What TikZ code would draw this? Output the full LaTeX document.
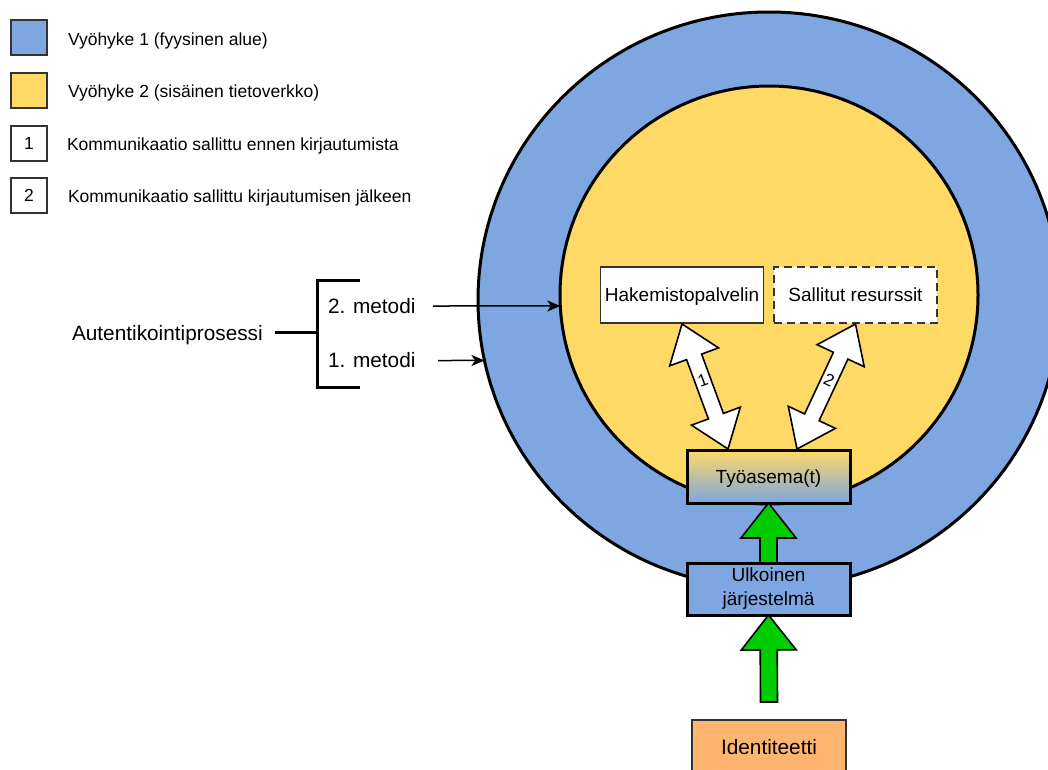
\documentclass[tikz,border=0pt]{standalone}
\usepackage{fontspec}
\setmainfont{Liberation Sans}
\usetikzlibrary{calc,shapes.geometric,arrows.meta}

\definecolor{zoneblue}{HTML}{7EA6E0}
\definecolor{zoneyellow}{HTML}{FFD966}
\definecolor{idorange}{HTML}{FFB570}
\definecolor{passgreen}{HTML}{00CC00}
\definecolor{edgegray}{HTML}{333333}

% head length, head half width, shaft half width of the white two-way arrows
\newcommand{\ahl}{35pt}
\newcommand{\ahw}{26pt}
\newcommand{\asw}{8pt}
% same for the green one-way arrows
\newcommand{\bhl}{35pt}
\newcommand{\bhw}{27.5pt}
\newcommand{\bsw}{8.5pt}

% two-way block arrow between two named points
\newcommand{\twowayarrow}[2]{%
  \draw[flowarrow] (#1)
    -- ($($(#1)!\ahl!(#2)$)!\ahw!90:(#2)$)
    -- ($($(#1)!\ahl!(#2)$)!\asw!90:(#2)$)
    -- ($($(#2)!\ahl!(#1)$)!\asw!-90:(#1)$)
    -- ($($(#2)!\ahl!(#1)$)!\ahw!-90:(#1)$)
    -- (#2)
    -- ($($(#2)!\ahl!(#1)$)!\ahw!90:(#1)$)
    -- ($($(#2)!\ahl!(#1)$)!\asw!90:(#1)$)
    -- ($($(#1)!\ahl!(#2)$)!\asw!-90:(#2)$)
    -- ($($(#1)!\ahl!(#2)$)!\ahw!-90:(#2)$)
    -- cycle;}

% one-way block arrow from tail #1 to tip #2
\newcommand{\onewayarrow}[2]{%
  \draw[passarrow] ($(#1)!\bsw!90:(#2)$)
    -- ($($(#2)!\bhl!(#1)$)!\bsw!-90:(#1)$)
    -- ($($(#2)!\bhl!(#1)$)!\bhw!-90:(#1)$)
    -- (#2)
    -- ($($(#2)!\bhl!(#1)$)!\bhw!90:(#1)$)
    -- ($($(#2)!\bhl!(#1)$)!\bsw!90:(#1)$)
    -- ($(#1)!\bsw!-90:(#2)$)
    -- cycle;}

\begin{document}
\begin{tikzpicture}[x=1pt,y=-1pt,
  every node/.style={inner sep=0pt, outer sep=0pt},
  zone/.style={ellipse, draw=black, line width=3pt},
  legendbox/.style={draw=edgegray, line width=2pt, minimum width=36pt, minimum height=35pt,
    font=\fontsize{17.5}{21}\selectfont, text height=15.8pt, text depth=3.7pt},
  legendtext/.style={anchor=base west, font=\fontsize{17.5}{21}\selectfont},
  sidetext/.style={anchor=base west, font=\fontsize{20.8}{25}\selectfont,
    text height=18.8pt, text depth=4.4pt},
  server/.style={draw=edgegray, fill=white, line width=1.6pt, minimum width=163pt,
    minimum height=56pt, font=\fontsize{19}{23}\selectfont, text height=17.2pt, text depth=4pt},
  hostbox/.style={draw=black, line width=3pt, minimum width=163pt, align=center,
    font=\fontsize{19}{24}\selectfont},
  idbox/.style={draw=edgegray, line width=1.2pt, fill=idorange, minimum width=154pt,
    minimum height=54pt, font=\fontsize{20.8}{25}\selectfont, text height=18.8pt, text depth=4.4pt},
  bracket/.style={line width=3pt, draw=black},
  link/.style={line width=1.5pt, -{Stealth[length=13pt,width=11pt,inset=3.5pt]}},
  flowarrow/.style={draw=black, fill=white, line width=1.6pt, line join=miter},
  passarrow/.style={draw=black, fill=passgreen, line width=1.6pt, line join=miter},
  flowlabel/.style={font=\fontsize{17}{20}\selectfont, text height=15.4pt, text depth=3.6pt}]

\clip (0,0) rectangle (1048,769);

% legend
\node[legendbox, fill=zoneblue] (key1) at (29,37.5) {};
\node[legendbox, fill=zoneyellow] (key2) at (29,90.5) {};
\node[legendbox, fill=white] (key3) at (29,143) {1};
\node[legendbox, fill=white] (key4) at (29,195.5) {2};
\node[legendtext] (key1txt) at (68,45.7) {Vyöhyke 1 (fyysinen alue)};
\node[legendtext] (key2txt) at (68,97.3) {Vyöhyke 2 (sisäinen tietoverkko)};
\node[legendtext] (key3txt) at (67,150) {Kommunikaatio sallittu ennen kirjautumista};
\node[legendtext] (key4txt) at (68,202.3) {Kommunikaatio sallittu kirjautumisen jälkeen};

% security zones
\node[zone, fill=zoneblue, minimum width=582pt, minimum height=576pt] (zone1) at (769,300) {};
\node[zone, fill=zoneyellow, minimum width=418pt, minimum height=418pt] (zone2) at (769,295) {};

% servers inside the internal network
\node[server] (hak) at (682,295) {Hakemistopalvelin};
\node[server, dash pattern=on 8pt off 5pt] (res) at (855.5,295) {Sallitut resurssit};

% hosts on the way in
\node[hostbox, top color=zoneyellow, bottom color=zoneblue, minimum height=53pt,
  text height=17.2pt, text depth=4pt] (tyo) at (768.5,476.5) {Työasema(t)};
\node[hostbox, fill=zoneblue, minimum height=52pt] (ulk) at (768.5,589) {Ulkoinen\\järjestelmä};
\node[idbox] (ide) at (769,747) {Identiteetti};

% identity flow upwards
\coordinate (idtail) at ($(ide.north)+(0,-18)$);
\onewayarrow{ulk.north}{tyo.south}
\onewayarrow{idtail}{ulk.south}

% authentication process and its two methods
\node[sidetext] (auth) at (72,340) {Autentikointiprosessi};
\node[sidetext] (m2) at (328,313.3) {2. metodi};
\node[sidetext] (m1) at (328,367.3) {1. metodi};
\coordinate (spinetop) at (317,280);
\coordinate (spinebot) at (317,387);
\draw[bracket] (360,280) -- (spinetop) -- (spinebot) -- (360,387);
\draw[bracket] ($(auth.east)+(12,0)$) -- (auth.east -| spinetop);
\coordinate (m2tail) at (433,306);
\coordinate (m1tail) at (438,360.5);
\draw[link] (m2tail) -- (zone2.183);
\draw[link] (m1tail) -- (zone1.192);

% allowed communication from the workstation
\coordinate (a1top) at ($(hak.south)+(0,1)$);
\coordinate (a1bot) at ($(tyo.north)+(-40.5,-1)$);
\coordinate (a2top) at ($(res.south)+(0,1)$);
\coordinate (a2bot) at ($(tyo.north)+(28.5,-1)$);
\twowayarrow{a1top}{a1bot}
\twowayarrow{a2top}{a2bot}
\node[flowlabel, rotate=20] (lab1) at ($(a1top)!0.45!(a1bot)$) {1};
\node[flowlabel, rotate=-25] (lab2) at ($(a2top)!0.45!(a2bot)$) {2};

\end{tikzpicture}
\end{document}
